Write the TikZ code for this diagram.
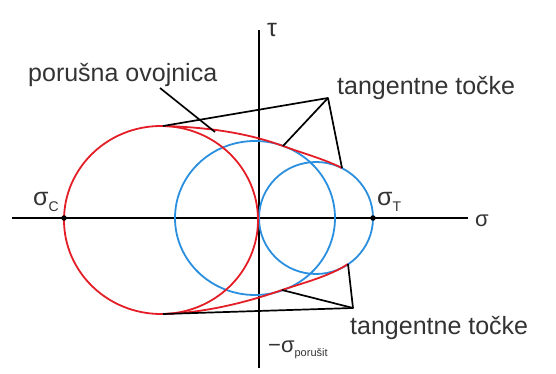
\documentclass[tikz,border=0pt]{standalone}
\usepackage{fontspec}
\setmainfont{Liberation Sans}
\usetikzlibrary{calc}
\definecolor{mohrred}{HTML}{E41E26}
\definecolor{mohrblue}{HTML}{2A8FDF}
\definecolor{txtgray}{HTML}{333333}
\newcommand\lowsub[2]{\raisebox{-#1}{\fontsize{14}{16}\selectfont #2}}

\begin{document}
\begin{tikzpicture}[
  x=1pt, y=-1pt,
  axis/.style={draw=black, line width=1.8pt},
  mohr/.style={line width=1.8pt},
  lead/.style={draw=black, line width=1.7pt, line join=round},
  lbl/.style={inner sep=0pt, anchor=base west, text=txtgray, font=\fontsize{25}{30}\selectfont},
  dot/.style={circle, fill=black, inner sep=0pt, minimum size=5.5pt}
]
  \useasboundingbox (0,0) rectangle (556,374);

  % axes
  \coordinate (sl) at (12,218);
  \coordinate (sr) at (468,218);
  \coordinate (tt) at (259,30);
  \coordinate (tb) at (259,368);
  \draw[axis] (sl) -- (sr);
  \draw[axis] (tt) -- (tb);

  % Mohr circles
  \draw[mohr, draw=mohrblue] (255,218) ellipse [x radius=80, y radius=77];
  \draw[mohr, draw=mohrblue] (316,218) ellipse [x radius=57, y radius=56];
  \draw[mohr, draw=mohrred] (161,220) ellipse [x radius=97, y radius=94];

  % tangent points and label corners
  \coordinate (t1) at (163,126);
  \coordinate (t2) at (283,146);
  \coordinate (t3) at (342,168);
  \coordinate (b1) at (163,314);
  \coordinate (b2) at (282,290);
  \coordinate (b3) at (348,264);
  \coordinate (ta) at (328,98);
  \coordinate (ba) at (353,308);

  % envelope
  \draw[mohr, draw=mohrred] (t1) .. controls (203,127) and (245,132) .. (t2)
    .. controls (302,153) and (324,159) .. (t3);
  \draw[mohr, draw=mohrred] (b1) .. controls (203,313) and (245,303) .. (b2)
    .. controls (303,283) and (330,276) .. (b3);

  % leaders
  \draw[lead] (t1) -- (ta) -- (t3);
  \draw[lead] (ta) -- (t2);
  \draw[lead] (b1) -- (ba) -- (b3);
  \draw[lead] (ba) -- (b2);
  \coordinate (p1) at (160,88);
  \coordinate (p2) at (215,132);
  \draw[lead] (p1) -- (p2);

  \node[dot] (sc) at (64,218) {};
  \node[dot] (st) at (373,218) {};

  % labels
  \node[lbl] (ovoj) at (28,82) {porušna ovojnica};
  \node[lbl] (tgtop) at (337,95) {tangentne točke};
  \node[lbl] (tgbot) at (350,334) {tangentne točke};
  \node[lbl] (sigc) at (33,205) {σ\lowsub{6pt}{C}};
  \node[lbl] (sigt) at (377,205) {σ\lowsub{6pt}{T}};
  \node[lbl] (tau) at (267,37) {τ};
  \node[lbl, font=\fontsize{22}{26}\selectfont] (sig) at (475,226) {σ};
  \node[lbl, font=\fontsize{22}{26}\selectfont] (sigp) at (268,352)
    {−σ\raisebox{-4pt}{\fontsize{11}{12}\selectfont porušit}};
\end{tikzpicture}
\end{document}
